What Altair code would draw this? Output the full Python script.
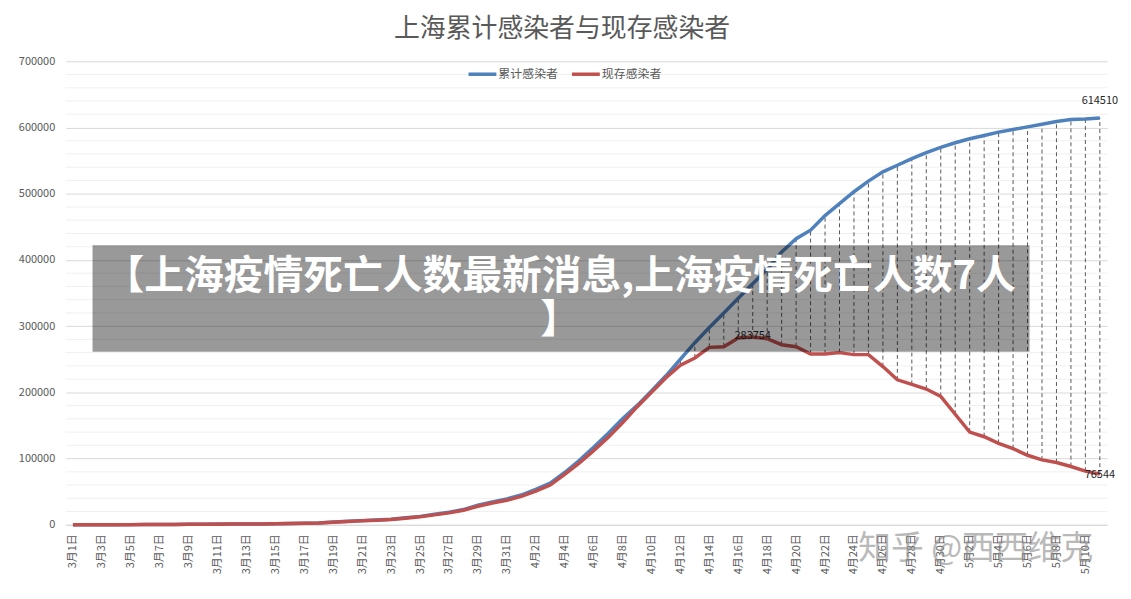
import altair as alt
import pandas as pd

dates = [
    "3月1日", "3月2日", "3月3日", "3月4日", "3月5日", "3月6日", "3月7日", "3月8日", "3月9日", "3月10日",
    "3月11日", "3月12日", "3月13日", "3月14日", "3月15日", "3月16日", "3月17日", "3月18日", "3月19日", "3月20日",
    "3月21日", "3月22日", "3月23日", "3月24日", "3月25日", "3月26日", "3月27日", "3月28日", "3月29日", "3月30日",
    "3月31日", "4月1日", "4月2日", "4月3日", "4月4日", "4月5日", "4月6日", "4月7日", "4月8日", "4月9日",
    "4月10日", "4月11日", "4月12日", "4月13日", "4月14日", "4月15日", "4月16日", "4月17日", "4月18日", "4月19日",
    "4月20日", "4月21日", "4月22日", "4月23日", "4月24日", "4月25日", "4月26日", "4月27日", "4月28日", "4月29日",
    "4月30日", "5月1日", "5月2日", "5月3日", "5月4日", "5月5日", "5月6日", "5月7日", "5月8日", "5月9日",
    "5月10日", "5月11日",
]

cumulative = [
    50, 100, 160, 210, 260, 320, 420, 520, 720, 930,
    1040, 1150, 1260, 1370, 1700, 1900, 2300, 2800, 4200, 5300,
    6300, 7400, 8500, 10600, 12700, 15800, 19000, 23000, 29500, 34500,
    39000, 45000, 53500, 63000, 79000, 97000, 117000, 138000, 160000, 180000,
    202000, 225000, 250000, 275000, 298000, 320000, 342000, 364000, 386000, 412000,
    432000, 445000, 467000, 485000, 503000, 519000, 533000, 543000, 553000, 562000,
    570000, 577000, 583000, 588000, 593000, 597000, 601000, 605000, 609000, 612000,
    613000, 614510,
]

current = [
    50, 100, 150, 200, 250, 300, 400, 500, 700, 900,
    1000, 1100, 1200, 1300, 1600, 1800, 2200, 2600, 4000, 5000,
    6000, 7000, 8000, 10000, 12000, 15000, 18000, 22000, 28000, 33000,
    37000, 43000, 51000, 60000, 76000, 93000, 112000, 132000, 154000, 178000,
    200000, 222000, 241000, 252000, 268000, 269000, 282000, 283754, 281000, 272000,
    269000, 258000, 258000, 260000, 257000, 257000, 239000, 219000, 212000, 205000,
    194000, 167000, 140000, 133000, 123000, 115000, 105000, 98000, 94000, 88000,
    81000, 76544,
]

y_ticks = [0, 100000, 200000, 300000, 400000, 500000, 600000, 700000]
minor_grid = [20000, 40000, 60000, 80000, 120000, 140000, 160000, 180000,
              220000, 240000, 260000, 280000, 320000, 340000, 360000, 380000,
              420000, 440000, 460000, 480000, 520000, 540000, 560000, 580000,
              620000, 640000, 660000, 680000]

title_text = "上海累计感染者与现存感染者"
legend_names = ["累计感染者", "现存感染者"]
banner_lines = ["【上海疫情死亡人数最新消息,上海疫情死亡人数7人", "】"]
watermark = "知乎 @西西维克"

BLUE = "#4F81BD"
RED = "#C0504D"
FONT = "Noto Sans CJK SC"

df = pd.DataFrame({"date": dates, "cum": cumulative, "cur": current})

x_enc = alt.X("date:O", sort=dates, title=None,
              scale=alt.Scale(type="point", padding=0.5),
              axis=alt.Axis(values=dates[::2], labelAngle=-90, tickSize=0, labelPadding=9,
                            labelFontSize=11, labelColor="#595959", labelFont=FONT,
                            domainColor="#d9d9d9", grid=False))
y_scale = alt.Scale(domain=[0, 700000], nice=False)


def y_enc(field):
    return alt.Y(field, scale=y_scale, title=None,
                 axis=alt.Axis(values=y_ticks, format="d", tickSize=0, labelPadding=11,
                               labelFontSize=11, labelColor="#595959", labelFont=FONT,
                               domain=False, gridColor="#d9d9d9", grid=True))


minor = alt.Chart(pd.DataFrame({"v": minor_grid})).mark_rule(
    color="#f0f0f0", strokeWidth=1).encode(y=y_enc("v:Q"))

drops = alt.Chart(df).mark_rule(color="#595959", strokeWidth=1, strokeDash=[4, 3]).encode(
    x=x_enc, y=y_enc("cur:Q"), y2="cum:Q")

blue_line = alt.Chart(df).mark_line(color=BLUE, strokeWidth=3.5).encode(x=x_enc, y=y_enc("cum:Q"))
red_line = alt.Chart(df).mark_line(color=RED, strokeWidth=3.5).encode(x=x_enc, y=y_enc("cur:Q"))

last_df = df[df["date"] == dates[-1]]
peak_df = df[df["cur"] == max(current)]

lab_blue = alt.Chart(last_df).mark_text(fontSize=11, font=FONT, color="#262626", dy=-17).encode(
    x=x_enc, y=y_enc("cum:Q"), text=alt.Text("cum:Q", format="d"))
lab_peak = alt.Chart(peak_df).mark_text(fontSize=11, font=FONT, color="#262626", dy=-1).encode(
    x=x_enc, y=y_enc("cur:Q"), text=alt.Text("cur:Q", format="d"))
lab_last = alt.Chart(last_df).mark_text(fontSize=11, font=FONT, color="#262626", dy=1).encode(
    x=x_enc, y=y_enc("cur:Q"), text=alt.Text("cur:Q", format="d"))

title = alt.Chart(pd.DataFrame({"t": [title_text]})).mark_text(
    fontSize=26, font=FONT, color="#595959").encode(
    x=alt.value(499), y=alt.value(-32), text="t:N")

leg_df = pd.DataFrame({"t": [legend_names[0]]})
leg1_sw = alt.Chart(leg_df).mark_rule(color=BLUE, strokeWidth=3.5).encode(
    x=alt.value(405), x2=alt.value(433), y=alt.value(13))
leg1_tx = alt.Chart(leg_df).mark_text(fontSize=12, font=FONT, color="#595959", align="left").encode(
    x=alt.value(435), y=alt.value(13), text="t:N")
leg2_df = pd.DataFrame({"t": [legend_names[1]]})
leg2_sw = alt.Chart(leg2_df).mark_rule(color=RED, strokeWidth=3.5).encode(
    x=alt.value(509), x2=alt.value(537), y=alt.value(13))
leg2_tx = alt.Chart(leg2_df).mark_text(fontSize=12, font=FONT, color="#595959", align="left").encode(
    x=alt.value(539), y=alt.value(13), text="t:N")

banner = alt.Chart(pd.DataFrame({"t": [0]})).mark_rect(color="#000000", opacity=0.4).encode(
    x=alt.value(27), x2=alt.value(969), y=alt.value(185), y2=alt.value(292))
ban1 = alt.Chart(pd.DataFrame({"t": [banner_lines[0]]})).mark_text(
    fontSize=40, font=FONT, fontWeight="bold", color="white").encode(
    x=alt.value(497), y=alt.value(217), text="t:N")
ban2 = alt.Chart(pd.DataFrame({"t": [banner_lines[1]]})).mark_text(
    fontSize=40, font=FONT, fontWeight="bold", color="white").encode(
    x=alt.value(497), y=alt.value(261), text="t:N")

wm = alt.Chart(pd.DataFrame({"t": [watermark]})).mark_text(
    fontSize=33, font=FONT, color="#8c8c8c", opacity=0.6).encode(
    x=alt.value(915), y=alt.value(490), text="t:N")

chart = alt.layer(
    minor, drops, blue_line, red_line, lab_blue, lab_peak, lab_last,
    title, leg1_sw, leg1_tx, leg2_sw, leg2_tx, banner, ban1, ban2, wm
).properties(
    width=1047, height=466,
    padding={"left": 58, "top": 52, "right": 16, "bottom": 70},
    autosize=alt.AutoSizeParams(type="none"),
    background="white",
).configure_view(stroke=None)

chart.save("out.html", embed_options={"renderer": "svg", "actions": False})
